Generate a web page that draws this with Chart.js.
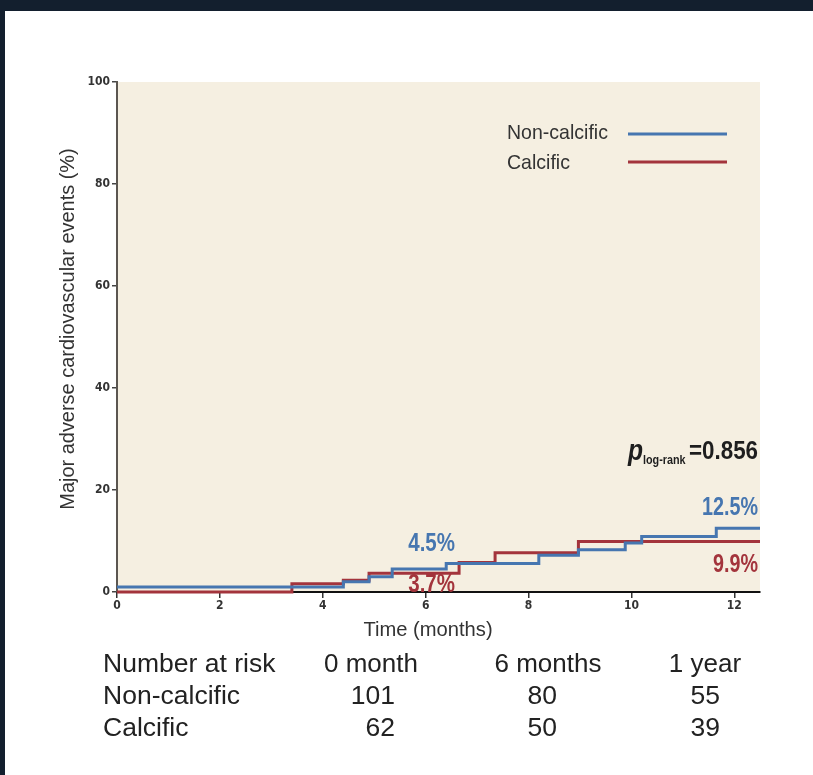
<!DOCTYPE html>
<html>
<head>
<meta charset="utf-8">
<script src="https://cdn.jsdelivr.net/npm/chart.js@4/dist/chart.umd.min.js"></script>
<style>
html,body{margin:0;padding:0;background:#fff;}
#wrap{position:absolute;left:0;top:0;width:813px;height:775px;}
</style>
</head>
<body>
<div id="wrap"><canvas id="c" width="813" height="775"></canvas></div>
<script>
// ---- data ----
const nonCalcificTimes = [0, 4.4, 4.9, 5.35, 6.4, 8.2, 8.97, 9.88, 10.2, 11.65, 12.5];
const nonCalcificEvents = [1.0, 2.0, 3.0, 4.5, 5.6, 7.2, 8.3, 9.6, 10.9, 12.5, 12.5];
const calcificTimes = [0, 3.4, 4.4, 4.9, 6.65, 7.35, 8.97, 12.5];
const calcificEvents = [0, 1.6, 2.3, 3.7, 5.8, 7.7, 9.9, 9.9];
const seriesNames = ["Non-calcific", "Calcific"];
const xTickValues = [0, 2, 4, 6, 8, 10, 12];
const yTickValues = [0, 20, 40, 60, 80, 100];
const riskHeader = ["Number at risk", "0 month", "6 months", "1 year"];
const nonCalcificAtRisk = [101, 80, 55];
const calcificAtRisk = [62, 50, 39];
const sixMonthLabels = ["4.5%", "3.7%"];
const oneYearLabels = ["12.5%", "9.9%"];
const pValue = "0.856";

const BLUE = '#4676b0', RED = '#a3343c';
const COND = "'DejaVu Sans Condensed','Liberation Sans',Arial,sans-serif";
const SANS = "'Liberation Sans',Arial,sans-serif";

function pts(t, v){ return t.map((x,i)=>({x:x, y:v[i]})); }

// draw text with horizontal compression
function sText(ctx, txt, x, y, font, sx, align){
  ctx.save();
  ctx.font = font;
  ctx.textAlign = align || 'left';
  ctx.textBaseline = 'middle';
  ctx.translate(x, y);
  ctx.scale(sx, 1);
  ctx.fillText(txt, 0, 0);
  ctx.restore();
}

const deco = {
  id:'deco',
  beforeDraw(chart){
    const ctx = chart.ctx, a = chart.chartArea;
    ctx.save();
    ctx.fillStyle = '#131f2e';
    ctx.fillRect(0,0,813,11);
    ctx.fillRect(0,0,5,775);
    ctx.fillStyle = '#f5efe1';
    ctx.fillRect(a.left, a.top, a.right - a.left, a.bottom - a.top);
    ctx.restore();
  },
  afterDraw(chart){
    const ctx = chart.ctx;
    const xs = chart.scales.x;
    ctx.save();
    // y title
    ctx.fillStyle = '#333';
    ctx.save();
    ctx.translate(68, 329); ctx.rotate(-Math.PI/2);
    sText(ctx, "Major adverse cardiovascular events (%)", 0, 0, "21px " + SANS, 0.95, 'center');
    ctx.restore();
    // x title
    sText(ctx, "Time (months)", 428, 630, "21px " + SANS, 0.96, 'center');
    // legend
    sText(ctx, seriesNames[0], 507, 133, "21px " + SANS, 0.93, 'left');
    sText(ctx, seriesNames[1], 507, 163, "21px " + SANS, 0.93, 'left');
    ctx.lineWidth = 3;
    ctx.strokeStyle = BLUE; ctx.beginPath(); ctx.moveTo(628,134); ctx.lineTo(727,134); ctx.stroke();
    ctx.strokeStyle = RED; ctx.beginPath(); ctx.moveTo(628,162); ctx.lineTo(727,162); ctx.stroke();
    // value labels
    const vf = "bold 25px " + SANS;
    const x6 = xs.getPixelForValue(6) + 6;
    ctx.fillStyle = BLUE; sText(ctx, sixMonthLabels[0], x6, 544, vf, 0.82, 'center');
    ctx.fillStyle = RED; sText(ctx, sixMonthLabels[1], x6, 585, vf, 0.82, 'center');
    ctx.fillStyle = BLUE; sText(ctx, oneYearLabels[0], 758, 508, vf, 0.79, 'right');
    ctx.fillStyle = RED; sText(ctx, oneYearLabels[1], 758, 565, vf, 0.79, 'right');
    // p value
    ctx.fillStyle = '#1e1e1e';
    sText(ctx, "p", 628, 452, "italic bold 29px " + SANS, 0.85, 'left');
    sText(ctx, "log-rank", 643, 461, "bold 12px " + SANS, 0.9, 'left');
    sText(ctx, "=" + pValue, 758, 452, "bold 26px " + SANS, 0.86, 'right');
    // risk table
    ctx.fillStyle = '#222';
    const tf = "26px " + SANS;
    sText(ctx, riskHeader[0], 103, 665, tf, 1.02, 'left');
    sText(ctx, seriesNames[0], 103, 697, tf, 1.02, 'left');
    sText(ctx, seriesNames[1], 103, 729, tf, 1.02, 'left');
    const hc = [371, 548, 705];
    for (let i=0;i<3;i++) sText(ctx, riskHeader[i+1], hc[i], 665, tf, 1.0, 'center');
    const rc = [395, 557, 720];
    for (let i=0;i<3;i++){
      sText(ctx, String(nonCalcificAtRisk[i]), rc[i], 697, tf, 1.02, 'right');
      sText(ctx, String(calcificAtRisk[i]), rc[i], 729, tf, 1.02, 'right');
    }
    ctx.restore();
  }
};

new Chart(document.getElementById('c'), {
  type:'line',
  data:{ datasets:[
    {label:seriesNames[0], data:pts(nonCalcificTimes, nonCalcificEvents), borderColor:BLUE, borderWidth:3, pointRadius:0, stepped:'before', fill:false, clip:false},
    {label:seriesNames[1], data:pts(calcificTimes, calcificEvents), borderColor:RED, borderWidth:3, pointRadius:0, stepped:'before', fill:false, clip:false}
  ]},
  options:{
    responsive:false, animation:false, devicePixelRatio:1,
    layout:{padding:{left:0, top:82, right:53, bottom:0}},
    plugins:{legend:{display:false}, tooltip:{enabled:false}},
    scales:{
      x:{type:'linear', min:0, max:12.5,
        afterBuildTicks(s){ s.ticks = xTickValues.map(v=>({value:v})); },
        afterFit(s){ s.height = 183; },
        border:{display:true, color:'#111', width:2},
        grid:{drawOnChartArea:false, drawTicks:true, tickLength:6, color:'#333', lineWidth:1.5},
        ticks:{color:'#333', font:{family:COND, size:12, weight:'bold'}, padding:1, maxRotation:0}
      },
      y:{type:'linear', min:0, max:100,
        afterBuildTicks(s){ s.ticks = yTickValues.map(v=>({value:v})); },
        afterFit(s){ s.width = 117; },
        border:{display:true, color:'#5b5650', width:2},
        grid:{drawOnChartArea:false, drawTicks:true, tickLength:5, color:'#444', lineWidth:1.5},
        ticks:{color:'#333', font:{family:COND, size:12, weight:'bold'}, padding:2}
      }
    }
  },
  plugins:[deco]
});
</script>
</body>
</html>
